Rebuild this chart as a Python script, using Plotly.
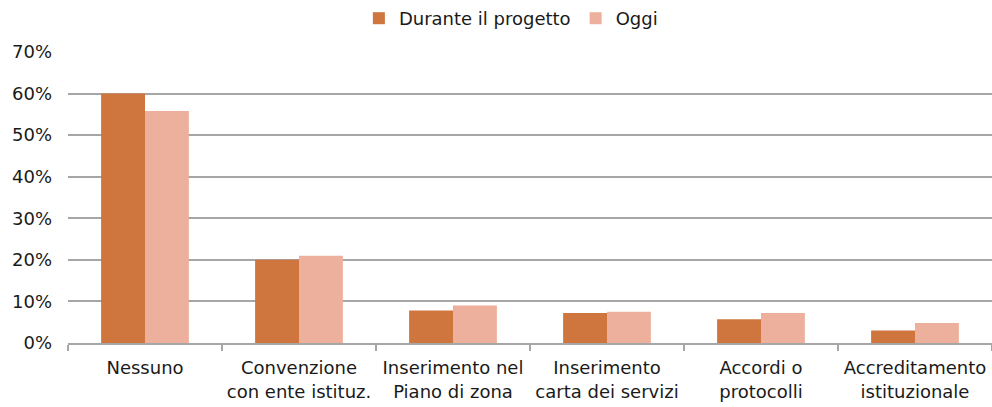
import plotly.graph_objects as go

categories = [
    "Nessuno",
    "Convenzione<br>con ente istituz.",
    "Inserimento nel<br>Piano di zona",
    "Inserimento<br>carta dei servizi",
    "Accordi o<br>protocolli",
    "Accreditamento<br>istituzionale",
]
durante = [60.0, 20.0, 7.8, 7.2, 5.7, 3.0]
oggi = [55.8, 21.0, 9.0, 7.5, 7.2, 4.8]

series_names = ["Durante il progetto", "Oggi"]
colors = ["#CF753E", "#EDB09C"]

font_family = "DejaVu Sans, sans-serif"
text_color = "#1a1a1a"

fig = go.Figure()
for name, vals, col in zip(series_names, [durante, oggi], colors):
    fig.add_trace(go.Bar(
        x=categories, y=vals, name=name,
        marker=dict(color=col, line=dict(width=0)),
    ))

fig.update_layout(
    width=992, height=407,
    margin=dict(l=68, r=0, t=52, b=64),
    paper_bgcolor="white", plot_bgcolor="white",
    barmode="group", bargap=0.43, bargroupgap=0,
    font=dict(family=font_family, size=18, color=text_color),
    legend=dict(
        orientation="h", x=0.515, xanchor="center", y=1.0, yanchor="top",
        xref="container", yref="container", font=dict(size=18), itemwidth=30,
        tracegroupgap=0,
    ),
    showlegend=True,
)

fig.update_xaxes(
    type="category", showgrid=False, showline=True, linecolor="#a6a6a6",
    linewidth=1.5, ticks="outside", tickson="boundaries", ticklen=6,
    tickcolor="#a6a6a6", tickwidth=1.5, tickfont=dict(size=18),
    ticklabelstandoff=8,
)
fig.update_yaxes(
    range=[0, 70], dtick=10, tick0=0, ticksuffix="%", showgrid=True,
    gridcolor="#a6a6a6", gridwidth=1.5, zeroline=False, showline=False,
    ticks="", tickfont=dict(size=18), ticklabelstandoff=15,
)

fig.write_html("out.html")
